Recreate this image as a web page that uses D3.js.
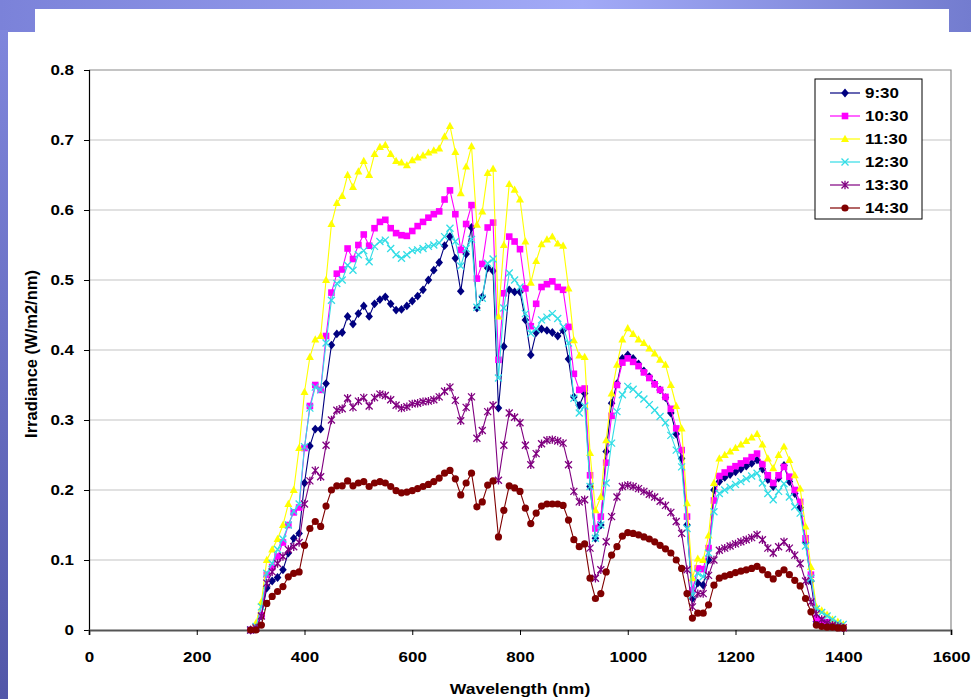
<!DOCTYPE html>
<html>
<head>
<meta charset="utf-8">
<script src="https://cdn.jsdelivr.net/npm/d3@7"></script>
<style>
  html, body { margin: 0; padding: 0; background: #ffffff; }
  svg { display: block; }
  text { font-family: "Liberation Sans", Arial, sans-serif; font-weight: bold; fill: #000; }
</style>
</head>
<body>
<svg id="chart" width="971" height="699"></svg>
<script>
// Wavelength samples, 300–1400 nm every 10 nm
const wavelengths = d3.range(300, 1401, 10);

const seriesNames = ["9:30", "10:30", "11:30", "12:30", "13:30", "14:30"];

const irr0930 = [0,0.003,0.02,0.06,0.07,0.075,0.086,0.11,0.131,0.138,0.21,0.263,0.287,0.287,0.352,0.407,0.423,0.425,0.448,0.437,0.452,0.463,0.448,0.466,0.472,0.476,0.466,0.457,0.458,0.463,0.47,0.477,0.486,0.5,0.514,0.525,0.549,0.562,0.531,0.484,0.537,0.575,0.46,0.476,0.517,0.513,0.317,0.405,0.486,0.483,0.483,0.443,0.393,0.425,0.43,0.428,0.425,0.42,0.428,0.387,0.333,0.321,0.338,0.205,0.131,0.15,0.255,0.324,0.352,0.388,0.393,0.388,0.38,0.37,0.362,0.352,0.343,0.332,0.31,0.28,0.245,0.15,0.045,0.067,0.064,0.1,0.2,0.212,0.218,0.222,0.226,0.23,0.234,0.238,0.243,0.23,0.215,0.205,0.217,0.235,0.212,0.195,0.175,0.125,0.07,0.012,0.01,0.008,0.006,0.004,0.003];

const irr1030 = [0,0.005,0.021,0.079,0.09,0.105,0.125,0.15,0.168,0.175,0.26,0.32,0.35,0.343,0.42,0.482,0.509,0.515,0.545,0.53,0.55,0.565,0.549,0.574,0.583,0.586,0.574,0.567,0.564,0.563,0.57,0.577,0.583,0.589,0.594,0.598,0.615,0.628,0.594,0.543,0.58,0.607,0.502,0.523,0.575,0.582,0.386,0.481,0.562,0.555,0.544,0.488,0.434,0.466,0.49,0.494,0.498,0.49,0.486,0.433,0.366,0.343,0.345,0.221,0.145,0.162,0.239,0.306,0.35,0.382,0.388,0.383,0.377,0.368,0.36,0.351,0.343,0.333,0.316,0.288,0.257,0.162,0.057,0.088,0.087,0.117,0.185,0.22,0.225,0.23,0.234,0.238,0.242,0.247,0.252,0.237,0.221,0.21,0.221,0.233,0.219,0.2,0.183,0.131,0.079,0.017,0.014,0.011,0.008,0.006,0.004];

const irr1130 = [0,0.01,0.04,0.1,0.115,0.13,0.15,0.18,0.2,0.26,0.34,0.39,0.415,0.42,0.5,0.58,0.61,0.62,0.65,0.633,0.655,0.67,0.65,0.68,0.69,0.693,0.68,0.67,0.668,0.664,0.671,0.675,0.678,0.682,0.685,0.688,0.705,0.72,0.683,0.624,0.662,0.691,0.579,0.598,0.653,0.659,0.448,0.55,0.637,0.629,0.615,0.555,0.496,0.527,0.551,0.558,0.562,0.552,0.549,0.488,0.414,0.392,0.39,0.253,0.171,0.19,0.271,0.338,0.379,0.415,0.431,0.423,0.415,0.41,0.402,0.395,0.386,0.379,0.35,0.32,0.288,0.181,0.074,0.102,0.1,0.135,0.21,0.245,0.25,0.255,0.26,0.265,0.27,0.275,0.28,0.265,0.245,0.231,0.25,0.262,0.243,0.221,0.202,0.148,0.09,0.033,0.028,0.022,0.015,0.012,0.008];

const irr1230 = [0,0.005,0.033,0.081,0.095,0.115,0.13,0.15,0.17,0.18,0.262,0.317,0.347,0.343,0.41,0.471,0.495,0.5,0.521,0.514,0.536,0.542,0.526,0.548,0.555,0.557,0.545,0.536,0.531,0.536,0.542,0.543,0.545,0.548,0.55,0.553,0.562,0.574,0.555,0.52,0.545,0.558,0.461,0.474,0.524,0.53,0.36,0.46,0.51,0.5,0.49,0.452,0.424,0.43,0.443,0.447,0.452,0.445,0.433,0.41,0.331,0.31,0.32,0.205,0.131,0.15,0.21,0.267,0.312,0.336,0.348,0.344,0.336,0.33,0.322,0.314,0.305,0.296,0.278,0.257,0.233,0.145,0.05,0.081,0.076,0.11,0.169,0.195,0.2,0.204,0.208,0.212,0.216,0.22,0.224,0.21,0.195,0.186,0.198,0.209,0.19,0.176,0.167,0.12,0.074,0.03,0.025,0.02,0.015,0.01,0.008];

const irr1330 = [0,0.003,0.02,0.067,0.083,0.095,0.105,0.115,0.119,0.125,0.18,0.213,0.228,0.219,0.264,0.3,0.314,0.316,0.331,0.318,0.327,0.332,0.32,0.332,0.337,0.335,0.329,0.321,0.317,0.319,0.323,0.324,0.326,0.327,0.329,0.333,0.341,0.347,0.328,0.299,0.318,0.333,0.274,0.285,0.312,0.321,0.214,0.264,0.31,0.304,0.296,0.264,0.236,0.252,0.266,0.271,0.272,0.27,0.267,0.236,0.198,0.183,0.186,0.117,0.074,0.086,0.126,0.162,0.19,0.205,0.207,0.205,0.202,0.198,0.194,0.19,0.184,0.178,0.168,0.155,0.138,0.086,0.033,0.052,0.052,0.078,0.1,0.114,0.117,0.12,0.123,0.126,0.129,0.132,0.136,0.129,0.117,0.11,0.119,0.126,0.117,0.107,0.095,0.07,0.04,0.023,0.015,0.01,0.007,0.005,0.003];

const irr1430 = [0,0,0.007,0.038,0.048,0.055,0.062,0.076,0.081,0.083,0.121,0.145,0.155,0.148,0.177,0.2,0.206,0.206,0.213,0.206,0.21,0.212,0.205,0.21,0.212,0.21,0.205,0.199,0.196,0.197,0.199,0.202,0.205,0.208,0.212,0.217,0.224,0.228,0.216,0.193,0.21,0.224,0.176,0.183,0.207,0.213,0.133,0.171,0.206,0.203,0.198,0.174,0.152,0.167,0.177,0.18,0.18,0.18,0.178,0.157,0.129,0.119,0.123,0.074,0.045,0.052,0.083,0.107,0.119,0.134,0.139,0.138,0.136,0.133,0.13,0.126,0.121,0.116,0.11,0.1,0.088,0.052,0.017,0.024,0.024,0.036,0.064,0.074,0.077,0.079,0.082,0.084,0.086,0.088,0.091,0.086,0.079,0.073,0.081,0.086,0.079,0.071,0.063,0.045,0.026,0.007,0.005,0.004,0.004,0.003,0.003];

const xTicks = [0, 200, 400, 600, 800, 1000, 1200, 1400, 1600];
const yTicks = [0, 0.1, 0.2, 0.3, 0.4, 0.5, 0.6, 0.7, 0.8];

const seriesValues = [irr0930, irr1030, irr1130, irr1230, irr1330, irr1430];
const seriesColors = ["#000080", "#ff00ff", "#ffff00", "#33dde6", "#800080", "#800000"];
const markerKinds = ["diamond", "square", "triangle", "cross", "star", "circle"];

const svg = d3.select("#chart");
const W = 971, H = 699;
// horizontal text widening used throughout the slide
const TEXT_STRETCH = 1.13;

// ---- slide backdrop ----
const defs = svg.append("defs");
const gTop = defs.append("linearGradient").attr("id", "bandTop").attr("x1", 0).attr("x2", 1).attr("y1", 0).attr("y2", 0);
gTop.append("stop").attr("offset", "0").attr("stop-color", "#7b82d9");
gTop.append("stop").attr("offset", "0.6").attr("stop-color", "#a2aaf7");
gTop.append("stop").attr("offset", "1").attr("stop-color", "#737ccf");
const gLeft = defs.append("linearGradient").attr("id", "bandLeft").attr("x1", 0).attr("x2", 0).attr("y1", 0).attr("y2", 1);
gLeft.append("stop").attr("offset", "0").attr("stop-color", "#7f86dc");
gLeft.append("stop").attr("offset", "1").attr("stop-color", "#5257a8");

svg.append("rect").attr("x", 0).attr("y", 0).attr("width", W).attr("height", 33).attr("fill", "url(#bandTop)");
svg.append("rect").attr("x", 0).attr("y", 30).attr("width", 8).attr("height", H - 30).attr("fill", "url(#bandLeft)");
svg.append("rect").attr("x", 35).attr("y", 9).attr("width", 914).attr("height", 26).attr("fill", "#ffffff");
svg.append("rect").attr("x", 8).attr("y", 32).attr("width", W - 8).attr("height", H - 32).attr("fill", "#ffffff");

// ---- scales ----
const plot = { left: 89, right: 951, top: 70, bottom: 630 };
const x = d3.scaleLinear().domain([0, 1600]).range([plot.left, plot.right]);
const y = d3.scaleLinear().domain([0, 0.8]).range([plot.bottom, plot.top]);

// gridlines
svg.append("g")
  .selectAll("line")
  .data(yTicks.filter(t => t > 0 && t < 0.8))
  .join("line")
  .attr("x1", plot.left).attr("x2", plot.right)
  .attr("y1", d => y(d)).attr("y2", d => y(d))
  .attr("stroke", "#c4c4c4").attr("stroke-width", 1.2);

// plot area frame (top and right)
svg.append("path")
  .attr("d", `M${plot.left},${plot.top}H${plot.right}V${plot.bottom}`)
  .attr("fill", "none").attr("stroke", "#8a8a8a").attr("stroke-width", 1.2);

// axes
const yAxis = d3.axisLeft(y).tickValues(yTicks).tickSize(5).tickPadding(10)
  .tickFormat(d => d === 0 ? "0" : d3.format(".1f")(d));
const yg = svg.append("g").attr("transform", `translate(${plot.left},0)`).call(yAxis);
yg.select(".domain").attr("stroke", "#000").attr("stroke-width", 1.2);
yg.selectAll(".tick line").attr("stroke", "#000");
yg.selectAll(".tick text").attr("font-size", 15).attr("font-family", "Liberation Sans, Arial, sans-serif").attr("font-weight", "bold");

const xAxis = d3.axisBottom(x).tickValues(xTicks).tickSize(5).tickPadding(16).tickFormat(d3.format("d"));
const xg = svg.append("g").attr("transform", `translate(0,${plot.bottom})`).call(xAxis);
xg.select(".domain").attr("stroke", "#555").attr("stroke-width", 2);
xg.selectAll(".tick line").attr("stroke", "#000");
xg.selectAll(".tick text").attr("font-size", 15).attr("font-family", "Liberation Sans, Arial, sans-serif").attr("font-weight", "bold");

// axis titles
svg.append("text").attr("class", "wide")
  .attr("x", (plot.left + plot.right) / 2).attr("y", 694)
  .attr("text-anchor", "middle").attr("font-size", 15.5)
  .text("Wavelength (nm)");
svg.append("text")
  .attr("transform", `translate(37,${(plot.top + plot.bottom) / 2 + 4}) rotate(-90)`)
  .attr("text-anchor", "middle").attr("font-size", 16.5)
  .text("Irradiance (W/m2/nm)");

// ---- markers ----
function drawMarker(sel, kind, color) {
  if (kind === "diamond") {
    sel.append("path").attr("d", "M0,-4.4L3.8,0L0,4.4L-3.8,0Z").attr("fill", color);
  } else if (kind === "square") {
    sel.append("rect").attr("x", -3.3).attr("y", -3.3).attr("width", 6.6).attr("height", 6.6).attr("fill", color);
  } else if (kind === "triangle") {
    sel.append("path").attr("d", "M0,-4.2L4,3L-4,3Z").attr("fill", color);
  } else if (kind === "cross") {
    sel.append("path").attr("d", "M-3.5,-3.5L3.5,3.5M-3.5,3.5L3.5,-3.5").attr("stroke", color).attr("stroke-width", 1.3).attr("fill", "none");
  } else if (kind === "star") {
    sel.append("path").attr("d", "M-3.5,-3.5L3.5,3.5M-3.5,3.5L3.5,-3.5M0,-4.2V4.2").attr("stroke", color).attr("stroke-width", 1.3).attr("fill", "none");
  } else {
    sel.append("circle").attr("r", 3.6).attr("fill", color);
  }
}

// ---- series ----
const line = d3.line().x(d => x(d.w)).y(d => y(d.v));
seriesNames.forEach((name, i) => {
  const pts = wavelengths.map((w, k) => ({ w, v: seriesValues[i][k] }));
  const g = svg.append("g").attr("class", "series");
  g.append("path").datum(pts).attr("d", line)
    .attr("fill", "none").attr("stroke", seriesColors[i]).attr("stroke-width", 1.1);
  g.selectAll("g.pt").data(pts).join("g").attr("class", "pt")
    .attr("transform", d => `translate(${x(d.w)},${y(d.v)})`)
    .each(function () { drawMarker(d3.select(this), markerKinds[i], seriesColors[i]); });
});

// ---- legend ----
const lg = svg.append("g").attr("transform", "translate(815,79)");
lg.append("rect").attr("x", 0).attr("y", 0).attr("width", 107).attr("height", 140)
  .attr("fill", "#fff").attr("stroke", "#000").attr("stroke-width", 1);
seriesNames.forEach((name, i) => {
  const yy = 14 + i * 23;
  lg.append("line").attr("x1", 15).attr("x2", 45).attr("y1", yy).attr("y2", yy)
    .attr("stroke", seriesColors[i]).attr("stroke-width", 1.2);
  drawMarker(lg.append("g").attr("transform", `translate(30,${yy})`), markerKinds[i], seriesColors[i]);
  lg.append("text").attr("class", "wide").attr("x", 50).attr("y", yy).attr("dy", "0.36em")
    .attr("font-size", 15).text(name);
});

// widen horizontal text a little, keeping anchors in place
svg.selectAll(".tick text, text.wide").each(function () {
  const len = this.getComputedTextLength();
  d3.select(this).attr("textLength", len * TEXT_STRETCH).attr("lengthAdjust", "spacingAndGlyphs");
});
</script>
</body>
</html>
